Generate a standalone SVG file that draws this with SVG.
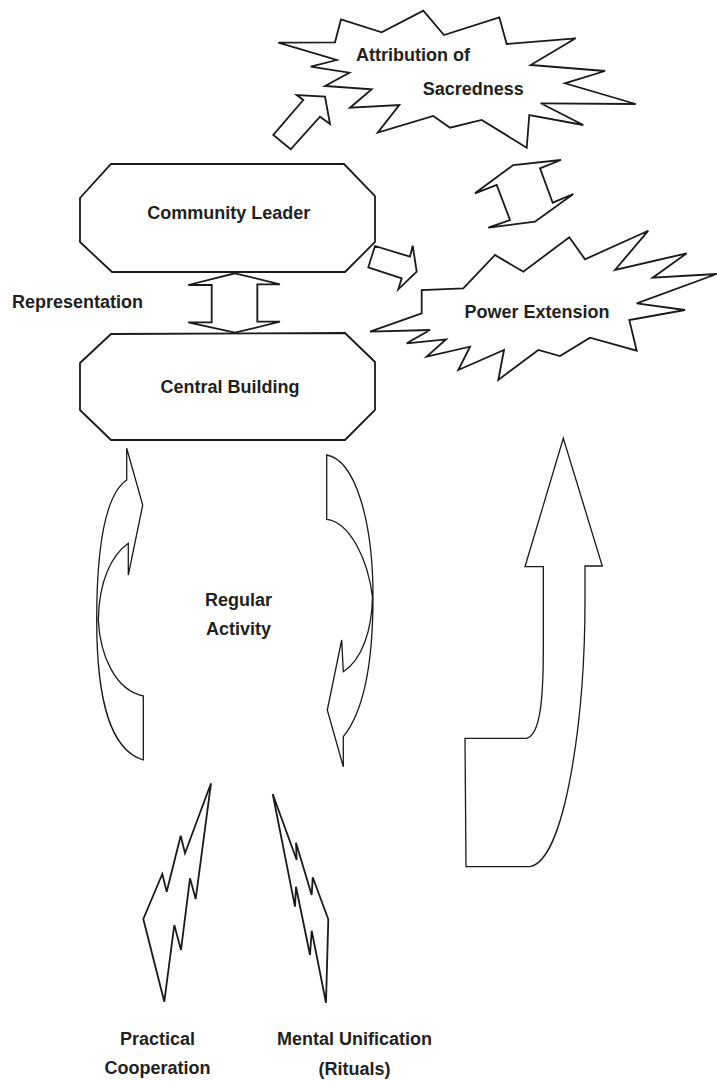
<svg xmlns="http://www.w3.org/2000/svg" width="717" height="1081" viewBox="0 0 717 1081">
<style>
.s{fill:#fff;stroke:#1a1a1a;stroke-width:1.8;stroke-linejoin:miter}
.t{fill:#fff;stroke:#1a1a1a;stroke-width:1.3}
.l{font-family:"Liberation Sans",Arial,sans-serif;font-weight:bold;font-size:18px;fill:#231f20}
</style>
<rect width="717" height="1081" fill="#fff"/>
<g id="connectors">
<polygon class="s" points="325,96.7 330,124 320,116.7 290.7,149.3 273.3,135 303.3,100 296.7,95"/>
<polygon class="s" points="475,193.3 513.3,165 561,160 540,168.3 552.7,202.7 573.3,194 535,221.7 488.3,227.7 510,220 496.7,185"/>
<polygon class="s" points="375,246 410,256.7 412.7,245.7 416.7,271.7 398.3,289.3 401.7,278.3 368.3,267.3"/>
<polygon class="s" points="235,273.3 280,284.3 257.3,284.3 257.3,321.7 280,321.7 235,332.7 188.3,322.3 211.7,322.3 211.7,285 188.3,285"/>
<path class="t" d="M126.7,480 L126.7,448.3 L142.7,505 L128.3,575 L128.3,543.3 C112,555 99,580 98.3,620 C100,655 115,690 143.3,696 L143.3,760 C110,750 96.7,700 96.7,620 C96.7,545 105,495 126.7,480 Z"/>
<path class="t" d="M326.7,455 L326.7,519.3 C350,522 368,560 372.5,597 C372,630 362,660 343.3,671.7 L341.7,640 L327.3,710 L343.3,766.7 L343.3,736.7 C365,710 373,660 373,597 C373,520 355,460 326.7,455 Z"/>
<path class="t" d="M563.3,438.3 L602.3,566 L585,566 L585,600 C585,720 565,860 530,866.7 L466,866.7 L465,738.3 L526.7,738.3 C540,735 543.3,700 543.3,650 L543.3,566.7 L525,566.7 Z"/>
<polygon class="s" points="211,783.3 185,853.3 180.7,835.7 166.7,891.7 162.3,874 143.3,919 164.3,1001.7 174.3,925 181,950 190,878.3 195.7,899"/>
<polygon class="s" points="272.7,794 296.7,860 296,842.7 311.7,895 312.7,877.3 328.3,919.3 326,1002.7 311.7,930.7 310,955 296,886.7 295,906.7"/>
</g>
<g id="attribution">
<polygon class="s" points="278.3,42.7 335,42.3 341,19.3 381.7,32.3 423.3,10.7 444,35 499.3,17.3 506.7,44 575.7,38.3 530.7,65 605,71 565,83.3 635.7,104 540.7,103.3 583.3,125 529.3,115 526.7,147.7 481.7,120 450,127.7 433.3,116 377.7,132.7 399.3,105 350,107.7 371.7,89.3 325,86 349.3,72.7 310.7,66.7 336.7,60"/>
<text class="l" x="356" y="61">Attribution of</text>
<text class="l" x="422.7" y="95">Sacredness</text>
</g>
<g id="power">
<polygon class="s" points="370,331.7 421.7,313.3 421.7,290 463.3,288.3 495,255 523.3,271.7 569.3,237.3 585,259.3 648.3,230.7 615,270 686.7,253.3 652.7,277.7 716.7,274 636.7,303.3 685,310 629.3,320 636.7,350.7 590,337.7 560,356 538.3,350 498.3,380 504,350 458.3,370 470,346.7 426.7,356.7 446,339.3 406.7,343.3 430,330"/>
<text class="l" x="537" y="318.3" text-anchor="middle">Power Extension</text>
</g>
<g id="leader">
<polygon class="s" points="111,164 344,164 375,196 375,242 345,272 112,272 80,242 80,198"/>
<text class="l" x="228.7" y="219.3" text-anchor="middle">Community Leader</text>
</g>
<g id="representation">
<text class="l" x="12" y="308.3">Representation</text>
</g>
<g id="building">
<polygon class="s" points="111,334 345,333 375,362 375,410 345,440 111,440 80,410 80,363"/>
<text class="l" x="230" y="393.3" text-anchor="middle">Central Building</text>
</g>
<g id="regular">
<text class="l" x="238.5" y="606" text-anchor="middle">Regular</text>
<text class="l" x="238.5" y="635" text-anchor="middle">Activity</text>
</g>
<g id="practical">
<text class="l" x="157.5" y="1045" text-anchor="middle">Practical</text>
<text class="l" x="157.5" y="1074" text-anchor="middle">Cooperation</text>
</g>
<g id="mental">
<text class="l" x="354.5" y="1045" text-anchor="middle">Mental Unification</text>
<text class="l" x="354.5" y="1075" text-anchor="middle">(Rituals)</text>
</g>
</svg>
